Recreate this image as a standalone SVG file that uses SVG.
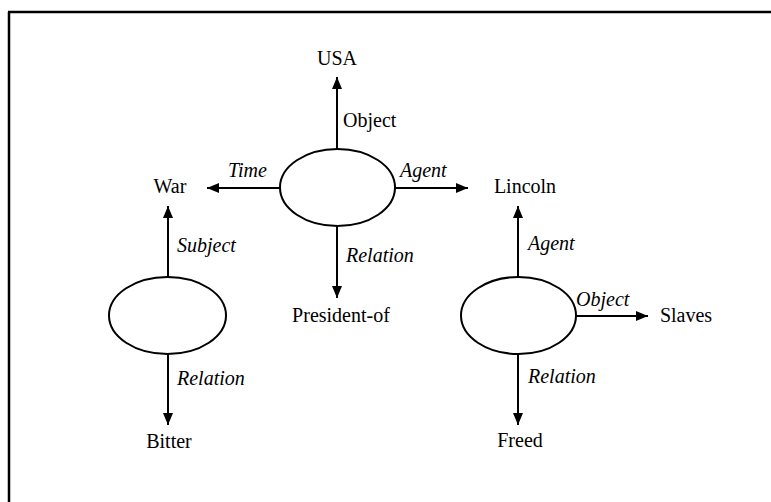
<svg xmlns="http://www.w3.org/2000/svg" width="771" height="502" viewBox="0 0 771 502">
  <style>
    .frame { stroke: #000; stroke-width: 2.5; fill: none; }
    .node { fill: #fff; stroke: #000; stroke-width: 2; }
    .edge { stroke: #000; stroke-width: 2; fill: none; marker-end: url(#arrow); }
    .term { font-family: "Liberation Serif", "Times New Roman", serif; font-size: 20px; fill: #000; }
    .role { font-family: "Liberation Serif", "Times New Roman", serif; font-size: 20px; font-style: italic; fill: #000; }
    .plain { font-style: normal; }
  </style>
  <defs>
    <marker id="arrow" markerUnits="userSpaceOnUse" markerWidth="14" markerHeight="12" refX="12" refY="5" orient="auto">
      <path d="M0,0 L12,5 L0,10 Z" fill="#000"/>
    </marker>
  </defs>

  <!-- frame: top and left rules -->
  <line class="frame" x1="8" y1="12" x2="771" y2="12"/>
  <line class="frame" x1="9" y1="12" x2="9" y2="502"/>

  <!-- connectors -->
  <g id="connectors">
    <!-- central proposition -->
    <path class="edge" d="M337,149 L337,77"/>
    <path class="edge" d="M280,188 L207,188"/>
    <path class="edge" d="M395,188 L468,188"/>
    <path class="edge" d="M337,226 L337,298"/>
    <!-- left proposition -->
    <path class="edge" d="M168,277 L168,206"/>
    <path class="edge" d="M168,354 L168,425"/>
    <!-- right proposition -->
    <path class="edge" d="M518,277 L518,206"/>
    <path class="edge" d="M576,316 L648,316"/>
    <path class="edge" d="M518,354 L518,425"/>
  </g>

  <!-- connector labels -->
  <g id="edge-labels">
    <text class="role plain" x="343" y="127">Object</text>
    <text class="role" x="228" y="177">Time</text>
    <text class="role" x="400" y="177">Agent</text>
    <text class="role" x="346" y="262">Relation</text>
    <text class="role" x="177" y="252">Subject</text>
    <text class="role" x="177" y="385">Relation</text>
    <text class="role" x="528" y="250">Agent</text>
    <text class="role" x="576" y="306">Object</text>
    <text class="role" x="528" y="383">Relation</text>
  </g>

  <!-- proposition nodes -->
  <g id="prop-president">
    <ellipse class="node" cx="337.5" cy="187.5" rx="57.5" ry="38.5"/>
  </g>
  <g id="prop-war">
    <ellipse class="node" cx="167.5" cy="315.5" rx="58.5" ry="38.5"/>
  </g>
  <g id="prop-freed">
    <ellipse class="node" cx="518.5" cy="315.5" rx="57.5" ry="38.5"/>
  </g>

  <!-- concept nodes -->
  <g id="usa"><text class="term" x="337" y="65" text-anchor="middle">USA</text></g>
  <g id="war"><text class="term" x="170" y="193" text-anchor="middle">War</text></g>
  <g id="lincoln"><text class="term" x="525" y="193" text-anchor="middle">Lincoln</text></g>
  <g id="president-of"><text class="term" x="341" y="322" text-anchor="middle">President-of</text></g>
  <g id="slaves"><text class="term" x="686" y="322" text-anchor="middle">Slaves</text></g>
  <g id="bitter"><text class="term" x="169" y="448" text-anchor="middle">Bitter</text></g>
  <g id="freed"><text class="term" x="520" y="447" text-anchor="middle">Freed</text></g>
</svg>
